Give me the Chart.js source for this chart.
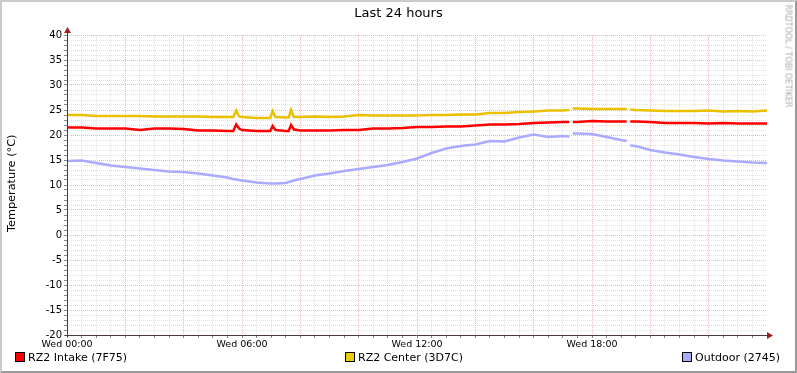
<!DOCTYPE html>
<html>
<head>
<meta charset="utf-8">
<script src="https://cdn.jsdelivr.net/npm/chart.js@4"></script>
<style>
  html, body { margin: 0; padding: 0; background: #fff; }
  #wrap { position: relative; width: 797px; height: 373px; font-family: "DejaVu Sans", sans-serif; color: #000; }
  #frame { position: absolute; left: 0; top: 0; width: 797px; height: 373px; box-sizing: border-box;
           border-top: 2px solid #cbcbcb; border-left: 2px solid #cbcbcb;
           border-right: 2px solid #999; border-bottom: 2px solid #999; pointer-events: none; }
  .title { position: absolute; left: 0; width: 797px; top: 5px; text-align: center; font-size: 13px; }
  .ytitle { position: absolute; left: 5px; top: 232px; font-size: 11.3px; line-height: 14px; white-space: nowrap;
            transform-origin: 0 0; transform: rotate(-90deg); }
  .mark { position: absolute; left: 788px; top: 56px; font-size: 8px; color: #aaa; white-space: nowrap;
          transform: translate(-50%, -50%) rotate(90deg); }
  .leg { position: absolute; top: 351px; font-size: 11px; white-space: nowrap; }
  .leg span { display: inline-block; width: 8px; height: 8px; border: 1px solid #000; margin-right: 3px; vertical-align: -1px; }
</style>
</head>
<body>
<div id="wrap">
  <canvas id="tempChart" width="797" height="373"></canvas>
  <div class="title">Last 24 hours</div>
  <div class="ytitle">Temperature (°C)</div>
  <div class="mark">RRDTOOL / TOBI OETIKER</div>
  <div class="leg" style="left:15px"><span style="background:#ff0000"></span>RZ2 Intake (7F75)</div>
  <div class="leg" style="left:345px"><span style="background:#eacc00"></span>RZ2 Center (3D7C)</div>
  <div class="leg" style="left:682px"><span style="background:#aaaaff"></span>Outdoor (2745)</div>
  <div id="frame"></div>
</div>
<script>
// hours since Wed 00:00
const hours = [0, 0.5, 1, 1.5, 2, 2.5, 3, 3.5, 4, 4.5, 5, 5.5, 5.7, 5.8, 5.9, 6, 6.5, 6.97, 7.05, 7.15,
    7.5, 7.6, 7.68, 7.78, 8, 8.5, 9, 9.5, 10, 10.5, 11, 11.5, 12, 12.5, 13, 13.5, 14, 14.5, 15, 15.5,
    16, 16.5, 17, 17.22, 17.28, 17.34, 17.5, 18, 18.5, 19, 19.19, 19.25, 19.31, 19.5, 20, 20.5, 21,
    21.5, 22, 22.5, 23, 23.5, 24];

const intake = [21.5, 21.5, 21.3, 21.3, 21.3, 21.0, 21.3, 21.3, 21.2, 20.9, 20.9, 20.8, 20.8, 22.1, 21.3,
    21.0, 20.8, 20.8, 21.8, 21.0, 20.8, 20.8, 22.0, 21.1, 20.9, 20.9, 20.9, 21.0, 21.0, 21.3, 21.3, 21.4,
    21.6, 21.6, 21.7, 21.7, 21.9, 22.1, 22.1, 22.2, 22.4, 22.5, 22.6, 22.6, null, 22.6, 22.6, 22.8, 22.7,
    22.7, 22.7, null, 22.7, 22.7, 22.6, 22.4, 22.4, 22.4, 22.3, 22.4, 22.3, 22.3, 22.3];

const center = [24.0, 24.0, 23.8, 23.8, 23.8, 23.8, 23.7, 23.7, 23.7, 23.7, 23.6, 23.6, 23.6, 24.9, 23.7,
    23.6, 23.4, 23.4, 24.8, 23.6, 23.5, 23.5, 25.0, 23.6, 23.6, 23.7, 23.6, 23.7, 24.0, 23.9, 23.9, 23.9,
    23.9, 24.0, 24.0, 24.1, 24.1, 24.4, 24.4, 24.6, 24.7, 24.9, 24.9, 25.0, null, 25.3, 25.3, 25.2, 25.2,
    25.2, 25.2, null, 25.1, 25.0, 24.9, 24.8, 24.8, 24.8, 24.9, 24.7, 24.8, 24.7, 24.9];

const outdoor = [14.8, 14.9, 14.4, 13.9, 13.6, 13.3, 13.0, 12.7, 12.6, 12.3, 11.9, 11.5, 11.2, 11.1, 11.0,
    10.9, 10.5, 10.3, 10.3, 10.3, 10.4, 10.6, 10.7, 10.9, 11.2, 11.9, 12.3, 12.8, 13.2, 13.6, 14.0, 14.6,
    15.3, 16.4, 17.3, 17.8, 18.1, 18.8, 18.7, 19.5, 20.1, 19.6, 19.8, 19.7, null, 20.3, 20.3, 20.2, 19.6,
    19.0, 18.8, null, 17.9, 17.8, 17.0, 16.5, 16.1, 15.6, 15.2, 14.9, 14.7, 14.5, 14.4];

const xTickLabels = { 0: 'Wed 00:00', 6: 'Wed 06:00', 12: 'Wed 12:00', 18: 'Wed 18:00' };

const pts = vals => hours.map((h, i) => ({ x: h, y: vals[i] }));

const gridRed = 'rgba(235, 140, 140, 0.65)';
const gridGrey = 'rgba(205, 205, 205, 0.6)';

// axis lines with the little rrdtool arrows
const axisArrows = {
    id: 'axisArrows',
    afterDraw(chart) {
        const c = chart.ctx, a = chart.chartArea;
        c.save();
        c.strokeStyle = '#4a3a3a';
        c.lineWidth = 1;
        c.beginPath();
        c.moveTo(a.left + 0.5, a.bottom + 2);
        c.lineTo(a.left + 0.5, a.top - 4);
        c.moveTo(a.left - 2, a.bottom + 0.5);
        c.lineTo(a.right + 1, a.bottom + 0.5);
        c.stroke();
        c.fillStyle = '#9b2020';
        c.beginPath();
        c.moveTo(a.left + 0.5, a.top - 8);
        c.lineTo(a.left - 3, a.top - 2);
        c.lineTo(a.left + 4, a.top - 2);
        c.fill();
        c.beginPath();
        c.moveTo(a.right + 6, a.bottom + 0.5);
        c.lineTo(a.right, a.bottom - 3);
        c.lineTo(a.right, a.bottom + 4);
        c.fill();
        c.restore();
    }
};

new Chart(document.getElementById('tempChart'), {
    type: 'line',
    data: {
        datasets: [
            { label: 'RZ2 Intake (7F75)', data: pts(intake), borderColor: '#ff0000' },
            { label: 'RZ2 Center (3D7C)', data: pts(center), borderColor: '#eac000' },
            { label: 'Outdoor (2745)', data: pts(outdoor), borderColor: '#aaaaff' }
        ]
    },
    options: {
        responsive: false,
        animation: false,
        spanGaps: false,
        elements: {
            point: { radius: 0 },
            line: { borderWidth: 2.5, tension: 0 }
        },
        layout: { padding: { top: 35, right: 30, left: 0, bottom: 0 } },
        plugins: {
            legend: { display: false },
            tooltip: { enabled: false }
        },
        scales: {
            x: {
                type: 'linear',
                min: 0,
                max: 24,
                afterFit: s => { s.height = 38; },
                afterBuildTicks: s => {
                    const t = [];
                    for (let v = 0; v <= 48; v++) t.push({ value: v / 2 });
                    s.ticks = t;
                },
                ticks: {
                    autoSkip: false,
                    maxRotation: 0,
                    padding: 1,
                    color: '#000',
                    font: { family: "'DejaVu Sans'", size: 9.5 },
                    callback: v => xTickLabels[v] || ''
                },
                grid: {
                    tickLength: 3,
                    tickColor: '#888',
                    color: c => c.tick.value >= 24 || c.tick.value === 0 ? 'rgba(0,0,0,0)' :
                        (c.tick.value % 2 === 0 ? gridRed : gridGrey)
                },
                border: { display: false, dash: [1, 1] }
            },
            y: {
                min: -20,
                max: 40,
                afterFit: s => { s.width = 67; },
                afterBuildTicks: s => {
                    const t = [];
                    for (let v = -20; v <= 40; v++) t.push({ value: v });
                    s.ticks = t;
                },
                ticks: {
                    autoSkip: false,
                    padding: 2,
                    color: '#000',
                    font: { family: "'DejaVu Sans'", size: 10 },
                    callback: v => v % 5 === 0 ? String(v) : ''
                },
                grid: {
                    tickLength: 3,
                    tickColor: '#888',
                    color: c => c.tick.value === -20 ? 'rgba(0,0,0,0)' :
                        (c.tick.value % 5 === 0 ? gridRed : gridGrey)
                },
                border: { display: false, dash: [1, 1] }
            }
        }
    },
    plugins: [axisArrows]
});
</script>
</body>
</html>
